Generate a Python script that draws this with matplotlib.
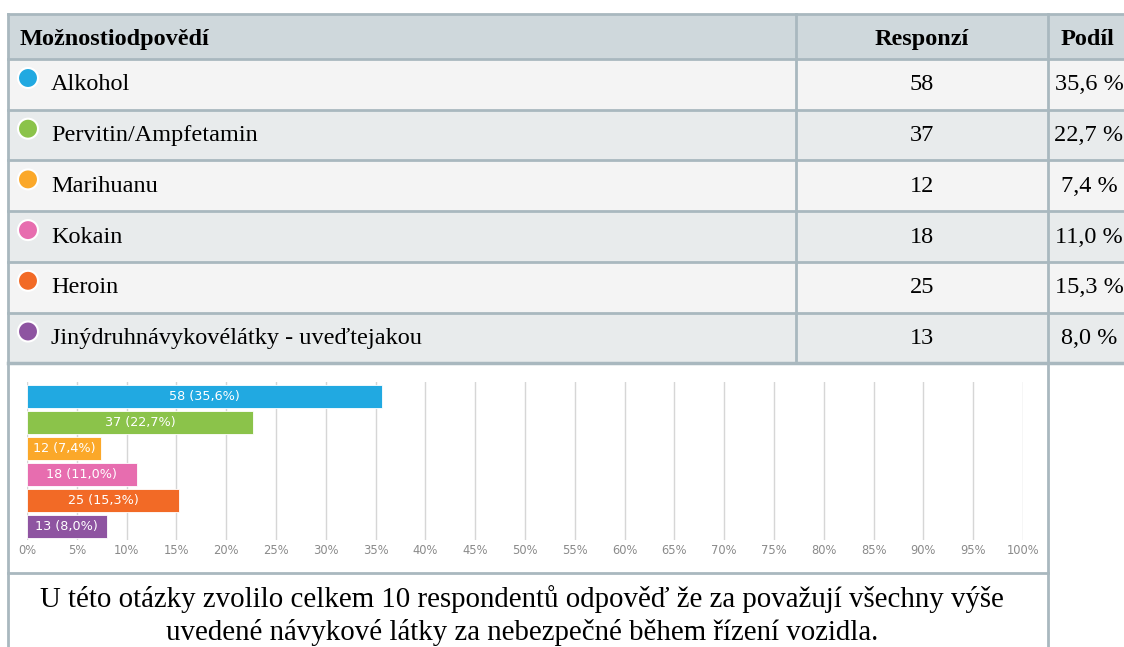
import matplotlib.pyplot as plt
from matplotlib.patches import Rectangle, Circle

W, H = 1124, 647
DPI = 100

categories = ["Alkohol", "Pervitin/Ampfetamin", "Marihuanu", "Kokain", "Heroin",
              "Jinýdruhnávykovélátky - uveďtejakou"]
responses = [58, 37, 12, 18, 25, 13]
shares = [35.6, 22.7, 7.4, 11.0, 15.3, 8.0]
colors = ["#21a9e1", "#8bc34a", "#fba829", "#e76daf", "#f26a26", "#8e54a1"]
header = ["Možnostiodpovědí", "Responzí", "Podíl"]
xticks = list(range(0, 101, 5))
note_lines = ["U této otázky zvolilo celkem 10 respondentů odpověď že za považují všechny výše",
              "uvedené návykové látky za nebezpečné během řízení vozidla."]

border = "#a9b8bf"
serif = "Liberation Serif"

fig = plt.figure(figsize=(W / DPI, H / DPI), dpi=DPI)

# overlay in pixel coordinates for the table and frames
ov = fig.add_axes([0, 0, 1, 1])
ov.set_xlim(0, W)
ov.set_ylim(H, 0)
ov.axis("off")

left, col1, col2, right = 8, 796, 1048, W + 5
top, head_h, row_h = 14, 45, 50.7

# header
ov.add_patch(Rectangle((left, top), right - left, head_h, facecolor="#cfd8dc", edgecolor="none"))
hy = top + head_h / 2 + 3
ov.text(20, hy, header[0], family=serif, fontsize=17.5, weight="bold", ha="left", va="center")
ov.text(922, hy, header[1], family=serif, fontsize=17.5, weight="bold", ha="center", va="center")
ov.text(1087, hy, header[2], family=serif, fontsize=17.5, weight="bold", ha="center", va="center")

# rows
for i, (cat, n, p, c) in enumerate(zip(categories, responses, shares, colors)):
    y0 = top + head_h + i * row_h
    bg = "#f4f4f4" if i % 2 == 0 else "#e8ebec"
    ov.add_patch(Rectangle((left, y0), right - left, row_h, facecolor=bg, edgecolor="none"))
    ov.add_patch(Circle((28, y0 + 19), 10, facecolor=c, edgecolor="white", linewidth=1.5))
    ty = y0 + 26
    ov.text(51, ty, cat, family=serif, fontsize=17.5, ha="left", va="center")
    ov.text(922, ty, str(n), family=serif, fontsize=17.5, ha="center", va="center")
    ov.text(1089, ty, f"{p:.1f} %".replace(".", ","), family=serif, fontsize=17.5,
            ha="center", va="center")
    ov.plot([left, right], [y0, y0], color=border, lw=2)

table_bottom = top + head_h + len(categories) * row_h
ov.plot([left, right], [top, top], color=border, lw=2)
ov.plot([left, right], [table_bottom, table_bottom], color=border, lw=2.5)
ov.plot([left, left], [top, H], color=border, lw=2)
ov.plot([col1, col1], [top, table_bottom], color=border, lw=2)
ov.plot([col2, col2], [top, H], color=border, lw=2)

# note box
chart_bottom = 573
ov.plot([left, col2], [chart_bottom, chart_bottom], color=border, lw=2)
for k, line in enumerate(note_lines):
    ov.text((left + col2) / 2 - 6, 607 + k * 33, line, family=serif, fontsize=20.8,
            ha="center", va="baseline")

# bar chart
ax_l, ax_r, ax_t, ax_b = 27, 1023, 382, 540
ax = fig.add_axes([ax_l / W, 1 - ax_b / H, (ax_r - ax_l) / W, (ax_b - ax_t) / H])
ax.set_facecolor("none")
pos = list(range(len(categories)))
ax.barh(pos, shares, height=0.88, color=colors, edgecolor="white", linewidth=0.6, zorder=3)
for y, n, p in zip(pos, responses, shares):
    ax.text(p / 2, y, f"{n} ({p:.1f}%)".replace(".", ","), color="white", fontsize=9.2,
            ha="center", va="center", family="DejaVu Sans", zorder=4)
ax.set_xlim(0, 100)
ax.set_ylim(5.52, -0.56)
ax.set_xticks(xticks)
ax.set_xticklabels([f"{t}%" for t in xticks], fontsize=8.3, color="#8a8a8a")
ax.set_yticks([])
ax.tick_params(axis="x", length=0, pad=3)
ax.grid(axis="x", color="#d6d6d6", linewidth=1, zorder=0)
for s in ax.spines.values():
    s.set_visible(False)

fig.savefig("out.png", dpi=DPI)
